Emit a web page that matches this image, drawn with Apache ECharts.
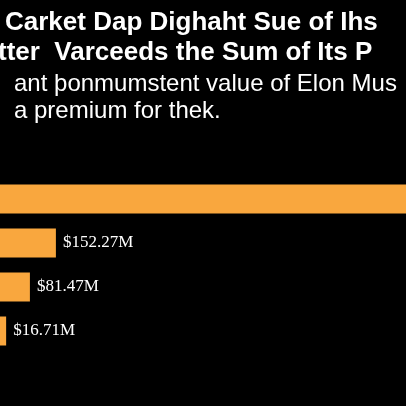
<!DOCTYPE html>
<html><head><meta charset="utf-8">
<script src="https://cdn.jsdelivr.net/npm/echarts@6/dist/echarts.min.js"></script>
<style>html,body{margin:0;padding:0;background:#000}#c{width:406px;height:406px}</style>
</head><body><div id="c"></div>
<script>
const categories = ['A', 'B', 'C', 'D'];
const values = [1300, 152.27, 81.47, 16.71];
const labels = ['', '$152.27M', '$81.47M', '$16.71M'];
const titleLines = ['Carket Dap Dighaht Sue of Ihs', 'tter  Varceeds the Sum of Its P'];
const subLines = ['ant þonmumstent value of Elon Mus', 'a premium for thek.'];

const chart = echarts.init(document.getElementById('c'));
chart.setOption({
  backgroundColor: '#000',
  animation: false,
  grid: { left: 0, right: 0, top: 177, bottom: 53 },
  xAxis: { type: 'value', min: 0, max: 1106, show: false },
  yAxis: { type: 'category', data: categories, inverse: true, show: false },
  series: [{
    type: 'bar', data: values, barWidth: 29,
    itemStyle: { color: '#F9A73E' },
    label: { show: true, position: 'right', distance: 7, color: '#fff', fontSize: 17,
      fontFamily: 'Liberation Serif',
      formatter: p => labels[p.dataIndex] }
  }],
  graphic: [
    { type: 'text', left: 5, top: 10, style: { text: titleLines[0], fill: '#fff', font: 'bold 26px "Liberation Sans"' } },
    { type: 'text', left: -2, top: 40, style: { text: titleLines[1], fill: '#fff', font: 'bold 26px "Liberation Sans"' } },
    { type: 'text', left: 14, top: 72, style: { text: subLines[0], fill: '#fff', font: '24px "Liberation Sans"' } },
    { type: 'text', left: 14, top: 99, style: { text: subLines[1], fill: '#fff', font: '24px "Liberation Sans"' } }
  ]
});
</script></body></html>
